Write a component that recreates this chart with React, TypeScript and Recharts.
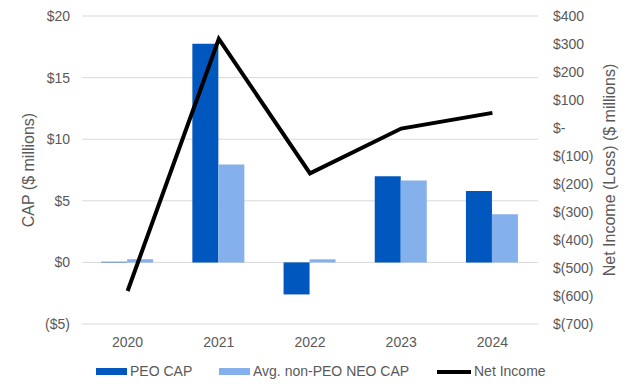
import React from 'react';
import { ComposedChart, Bar, Line, XAxis, YAxis, CartesianGrid } from 'recharts';

const years = ['2020', '2021', '2022', '2023', '2024'];
const peoCap = [0.05, 17.75, -2.6, 7.0, 5.8];
const neoCap = [0.25, 7.95, 0.25, 6.65, 3.9];
const netIncome = [-582, 318, -162, -2, 54];

const capTicks = [-5, 0, 5, 10, 15, 20];
const incomeTicks = [-700, -600, -500, -400, -300, -200, -100, 0, 100, 200, 300, 400];

const data = years.map((year, i) => ({
    year,
    peo: peoCap[i],
    neo: neoCap[i],
    income: netIncome[i],
}));

const FONT = '"Liberation Sans", Arial, sans-serif';
const TEXT = '#595959';
const PEO_COLOR = '#0057BE';
const NEO_COLOR = '#84B0EB';

const fmtCap = (v: number) => (v < 0 ? `($${-v})` : `$${v}`);
const fmtIncome = (v: number) => (v === 0 ? '$-' : v < 0 ? `$(${-v})` : `$${v}`);

const LegendRow = () => (
    <div style={{ position: 'absolute', top: 362, left: 0, width: 633, height: 20, fontFamily: FONT, fontSize: 14, color: TEXT }}>
        <div style={{ position: 'absolute', left: 96, top: 6, width: 31, height: 7, background: PEO_COLOR }} />
        <span style={{ position: 'absolute', left: 130, top: 1 }}>PEO CAP</span>
        <div style={{ position: 'absolute', left: 219, top: 6, width: 31, height: 7, background: NEO_COLOR }} />
        <span style={{ position: 'absolute', left: 253, top: 1 }}>Avg. non-PEO NEO CAP</span>
        <div style={{ position: 'absolute', left: 437, top: 8, width: 34, height: 4, background: '#000' }} />
        <span style={{ position: 'absolute', left: 474, top: 1 }}>Net Income</span>
    </div>
);

export default function App() {
    return (
        <div style={{ position: 'absolute', left: 0, top: 0, width: 633, height: 391, background: '#fff', fontFamily: FONT }}>
            <ComposedChart
                width={633}
                height={391}
                data={data}
                margin={{ top: 16, right: 0, bottom: 32, left: 0 }}
                barCategoryGap="21%"
                barGap={0}
                style={{ fontFamily: FONT }}
            >
                <CartesianGrid yAxisId="left" vertical={false} stroke="#d9d9d9" />
                <XAxis
                    dataKey="year"
                    height={35}
                    tickLine={false}
                    axisLine={false}
                    tickMargin={7}
                    tick={{ fill: TEXT, fontSize: 14, fontFamily: FONT }}
                />
                <YAxis
                    yAxisId="left"
                    width={82}
                    domain={[-5, 20]}
                    ticks={capTicks}
                    tickFormatter={fmtCap}
                    tickLine={false}
                    axisLine={false}
                    tickMargin={6}
                    tick={{ fill: TEXT, fontSize: 14, fontFamily: FONT }}
                    label={{ value: 'CAP ($ millions)', angle: -90, position: 'center', dx: -13, fill: TEXT, fontSize: 16, fontFamily: FONT }}
                />
                <YAxis
                    yAxisId="right"
                    orientation="right"
                    width={95}
                    domain={[-700, 400]}
                    ticks={incomeTicks}
                    tickFormatter={fmtIncome}
                    tickLine={false}
                    axisLine={false}
                    tickMargin={9}
                    tick={{ fill: TEXT, fontSize: 14, textAnchor: 'start', fontFamily: FONT }}
                    label={{ value: 'Net Income (Loss) ($ millions)', angle: -90, position: 'center', dx: 24, fill: TEXT, fontSize: 16, fontFamily: FONT }}
                />
                <Bar yAxisId="left" dataKey="peo" name="PEO CAP" fill={PEO_COLOR} isAnimationActive={false} />
                <Bar yAxisId="left" dataKey="neo" name="Avg. non-PEO NEO CAP" fill={NEO_COLOR} isAnimationActive={false} />
                <Line
                    yAxisId="right"
                    type="linear"
                    dataKey="income"
                    name="Net Income"
                    stroke="#000"
                    strokeWidth={4}
                    dot={false}
                    activeDot={false}
                    isAnimationActive={false}
                />
            </ComposedChart>
            <LegendRow />
        </div>
    );
}
